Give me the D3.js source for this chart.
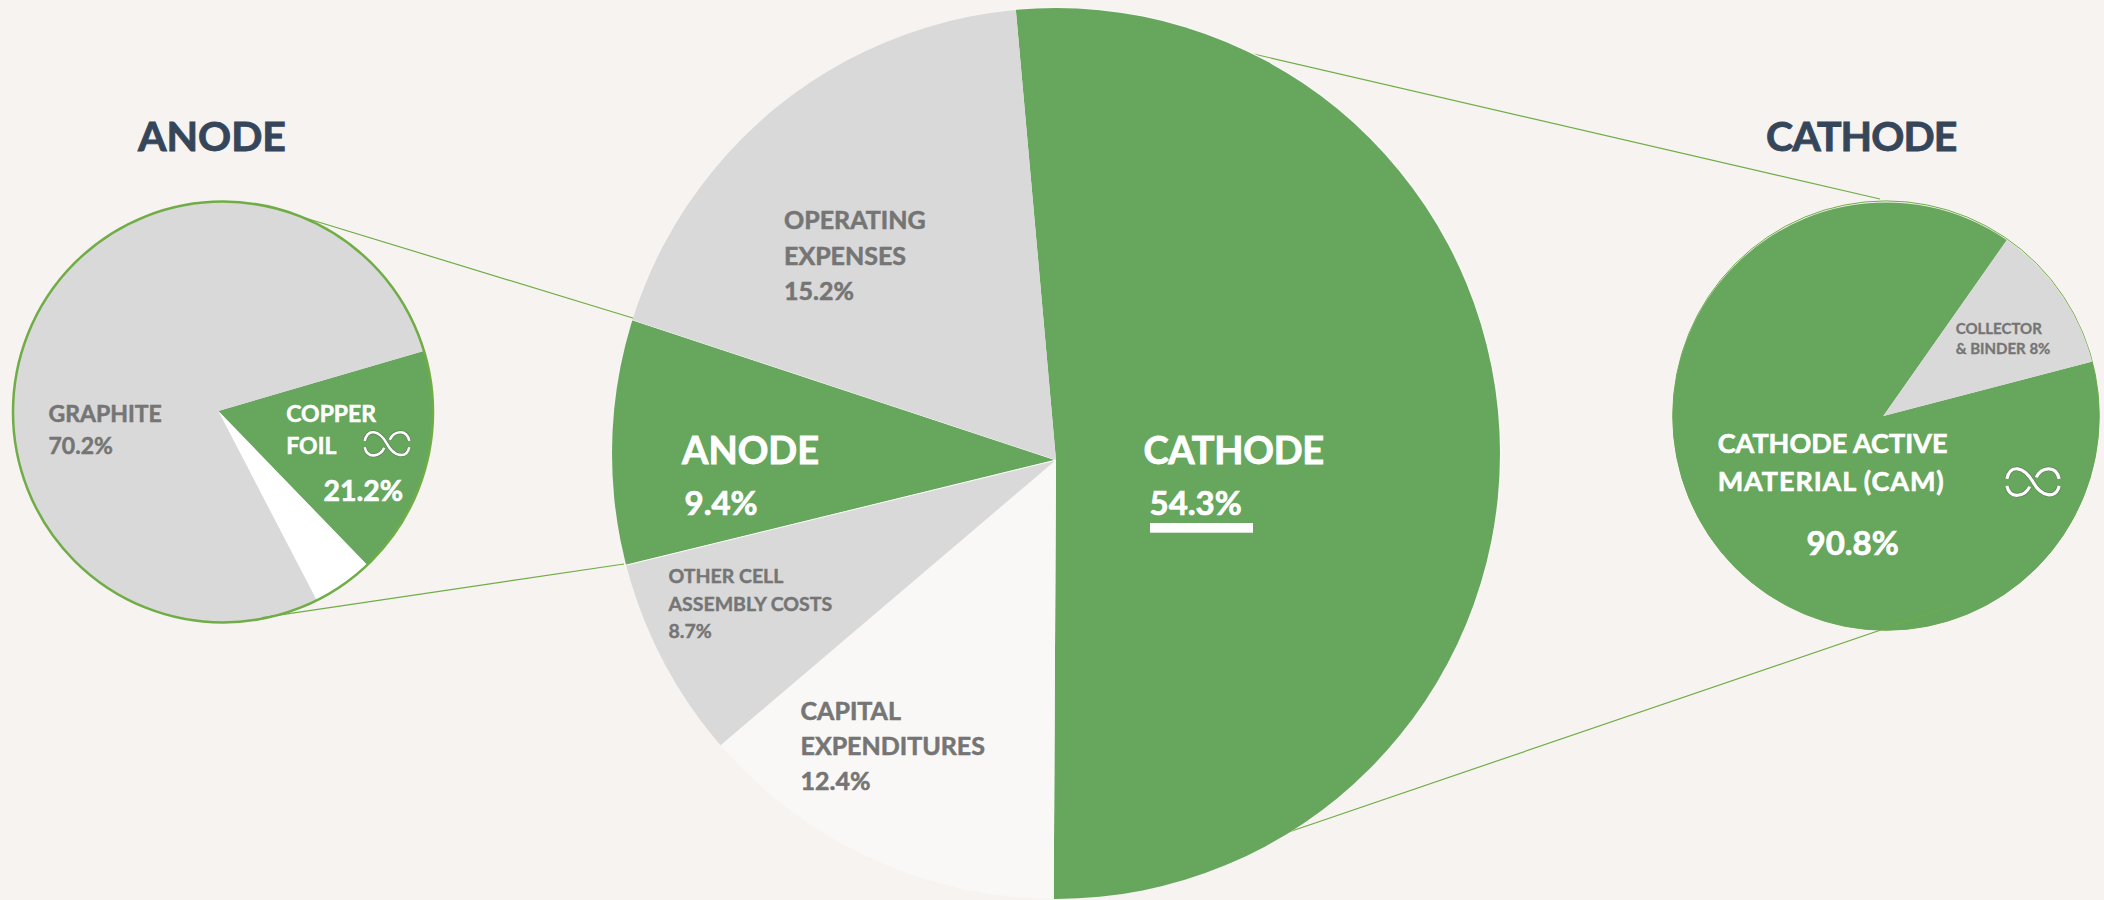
<!DOCTYPE html>
<html lang="en">
<head>
  <meta charset="UTF-8">
  <title>Battery cell cost breakdown</title>
  <script src="https://d3js.org/d3.v7.min.js"></script>
  <style>
    html, body { margin: 0; background: #f6f3f0; overflow: hidden; }
    svg { display: block; }
    text { font-family: Lato, "Noto Sans", sans-serif; font-weight: 700; }
  </style>
</head>
<body>
  <script>
    // slice shares are read off the drawn angles, the printed labels don't quite add up to them
    var mainCategories = ["CATHODE", "CAPITAL EXPENDITURES", "OTHER CELL ASSEMBLY COSTS", "ANODE", "OPERATING EXPENSES"];
    var mainShares = [51.5, 13.7, 7.4, 8.9, 18.5];
    var mainLabels = ["54.3%", "12.4%", "8.7%", "9.4%", "15.2%"];

    var anodeCategories = ["COPPER FOIL", "OTHER", "GRAPHITE"];
    var anodeShares = [17.3, 4.6, 78.1];
    var anodeLabels = ["21.2%", "", "70.2%"];

    var cathodeCategories = ["CATHODE ACTIVE MATERIAL (CAM)", "COLLECTOR & BINDER"];
    var cathodeShares = [88.8, 11.2];
    var cathodeLabels = ["90.8%", "8%"];

    var green = "#67a65d", gray = "#d9d9d9", offWhite = "#f9f8f6", white = "#ffffff";
    var lineGreen = "#70ad47", textGray = "#757575", titleColor = "#35465a";

    var width = 2104, height = 900;
    var rad = Math.PI / 180;

    var svg = d3.select("body").append("svg")
      .attr("width", width)
      .attr("height", height);
    var defs = svg.append("defs");

    // leader lines sit under the main pie
    var leaders = [
      [302, 217, 636, 319],
      [262, 617.7, 624, 564],
      [1245, 52, 1880, 199],
      [1280, 835, 1948, 607]
    ];

    function drawPie(id, o) {
      defs.append("clipPath").attr("id", id)
        .append("ellipse")
        .attr("cx", o.cx).attr("cy", o.cy).attr("rx", o.rx).attr("ry", o.ry);

      var slices = d3.pie().sort(null)
        .startAngle(o.start * rad)
        .endAngle((o.start + 360) * rad)(o.shares);
      var arc = d3.arc().innerRadius(0).outerRadius(o.rx * 1.6);

      svg.append("g")
        .attr("clip-path", "url(#" + id + ")")
        .append("g")
        .attr("transform", "translate(" + o.ax + "," + o.ay + ")")
        .selectAll("path")
        .data(slices)
        .join("path")
        .attr("d", arc)
        .attr("fill", function(d, i) { return o.colors[i]; })
        .attr("stroke", function(d, i) { return o.edge && o.edge[i] ? o.edge[i] : "none"; })
        .attr("stroke-width", 1);
    }

    function label(lines, x, ys, size, color, spacing) {
      lines.forEach(function(t, i) {
        svg.append("text")
          .attr("x", x)
          .attr("y", ys[i])
          .attr("font-size", size)
          .attr("fill", color)
          // Lato bold is a bit lighter than the reference face
          .attr("stroke", color)
          .attr("stroke-width", size * 0.022)
          .attr("letter-spacing", spacing || 0)
          .text(t);
      });
    }

    // recycling mark: two strands of an infinity loop with gaps at the outer ends
    function loopIcon(cx, cy, w, h, sw) {
      var sx = w / 2, sy = h / 2;
      var p1 = d3.path();
      p1.moveTo(-0.97 * sx, -0.2 * sy);
      p1.bezierCurveTo(-0.85 * sx, -1.15 * sy, -0.35 * sx, -1.05 * sy, 0, 0);
      p1.bezierCurveTo(0.3 * sx, 0.95 * sy, 0.85 * sx, 1.15 * sy, 0.97 * sx, 0.25 * sy);
      var p2 = d3.path();
      p2.moveTo(-0.97 * sx, 0.25 * sy);
      p2.bezierCurveTo(-0.85 * sx, 1.15 * sy, -0.3 * sx, 0.95 * sy, -0.12 * sx, 0.3 * sy);
      var p3 = d3.path();
      p3.moveTo(0.12 * sx, -0.3 * sy);
      p3.bezierCurveTo(0.3 * sx, -0.95 * sy, 0.85 * sx, -1.15 * sy, 0.97 * sx, -0.2 * sy);

      var g = svg.append("g").attr("transform", "translate(" + cx + "," + cy + ")");
      [[sw + 1.4, "#4f5f4c", 0.5], [sw, "#ffffff", 1]].forEach(function(s) {
        g.selectAll(null)
          .data([p1, p2, p3])
          .enter()
          .append("path")
          .attr("d", function(d) { return d.toString(); })
          .attr("fill", "none")
          .attr("stroke", s[1])
          .attr("stroke-opacity", s[2])
          .attr("stroke-width", s[0]);
      });
    }

    // anode pie, the outline goes on top
    drawPie("clip-anode", {
      cx: 223, cy: 412, rx: 210, ry: 210, ax: 218.3, ay: 411, start: 73.7,
      shares: anodeShares, colors: [green, white, gray]
    });
    svg.append("ellipse")
      .attr("cx", 223).attr("cy", 412).attr("rx", 210).attr("ry", 210.4)
      .attr("fill", "none").attr("stroke", lineGreen).attr("stroke-width", 2.5);

    // cathode pie, outline underneath shows only along the top and right
    svg.append("ellipse")
      .attr("cx", 1886).attr("cy", 415.6).attr("rx", 213.3).attr("ry", 214.7)
      .attr("fill", "none").attr("stroke", lineGreen).attr("stroke-width", 1);
    drawPie("clip-cathode", {
      cx: 1886, cy: 416.4, rx: 213.3, ry: 213.9, ax: 1883.3, ay: 416, start: 75.4,
      shares: cathodeShares, colors: [green, gray]
    });

    svg.selectAll(".leader")
      .data(leaders)
      .join("line")
      .attr("class", "leader")
      .attr("x1", function(d) { return d[0]; })
      .attr("y1", function(d) { return d[1]; })
      .attr("x2", function(d) { return d[2]; })
      .attr("y2", function(d) { return d[3]; })
      .attr("stroke", lineGreen)
      .attr("stroke-width", 1.2);

    // pale sliver that peeks out along the upper right of the main pie
    svg.append("ellipse")
      .attr("cx", 1057.5).attr("cy", 452.8).attr("rx", 444).attr("ry", 445.5)
      .attr("fill", offWhite);

    drawPie("clip-main", {
      cx: 1056, cy: 453.5, rx: 444, ry: 445.5, ax: 1056, ay: 460, start: -5.1,
      shares: mainShares, colors: [green, offWhite, gray, green, gray],
      edge: [null, null, null, white, null]
    });

    // titles
    label(["ANODE"], 138, [151], 41, titleColor);
    label(["CATHODE"], 1766, [151], 41, titleColor, -0.9);

    // anode pie labels
    label(["GRAPHITE", anodeLabels[2]], 48.5, [422, 454], 23, textGray);
    label(["COPPER", "FOIL"], 286.2, [421.5, 453.5], 23, white);
    label([anodeLabels[0]], 323.5, [501], 28.5, white);
    loopIcon(387, 443.8, 46, 27, 2.6);

    // cathode pie labels
    label(["COLLECTOR", "& BINDER " + cathodeLabels[1]], 1955.7, [334, 354], 15, textGray);
    label(["CATHODE ACTIVE"], 1717.7, [452.5], 27, white);
    label(["MATERIAL (CAM)"], 1717.7, [490.5], 27, white, 0.9);
    label([cathodeLabels[0]], 1806.5, [555], 33, white);
    loopIcon(2033, 482, 54, 31, 3.2);

    // main pie labels
    label(["ANODE"], 682, [464], 38, white);
    label([mainLabels[3]], 684.5, [515], 33, white);
    label(["CATHODE"], 1143.5, [464], 38, white, -0.3);
    label([mainLabels[0]], 1149.5, [515], 33, white);
    svg.append("rect")
      .attr("x", 1150).attr("y", 523).attr("width", 103).attr("height", 9.7)
      .attr("fill", white);
    label(["OTHER CELL", "ASSEMBLY COSTS", mainLabels[2]], 668.5, [582.5, 610.5, 637.5], 19.5, textGray);
    label(["CAPITAL", "EXPENDITURES", mainLabels[1]], 800.5, [720, 755, 790], 25, textGray);
    label(["OPERATING", "EXPENSES", mainLabels[4]], 784, [228.5, 265, 300], 25, textGray);
  </script>
</body>
</html>
